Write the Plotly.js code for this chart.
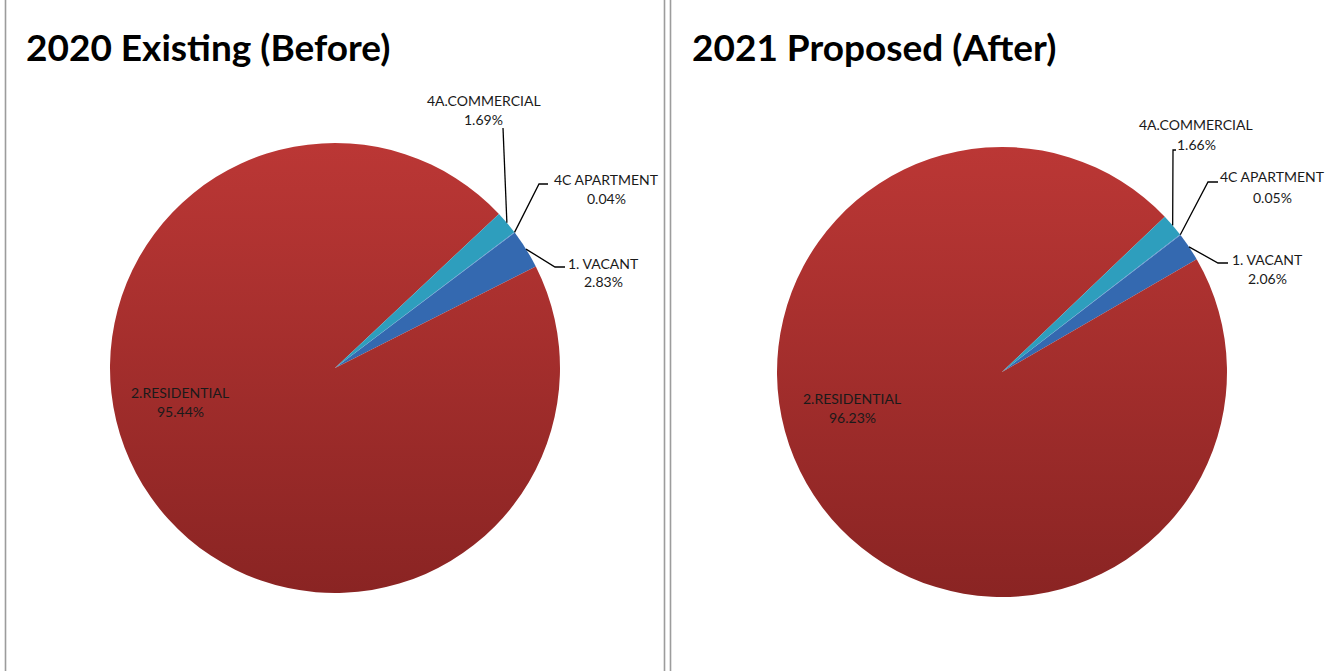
<!DOCTYPE html>
<html>
<head>
<meta charset="utf-8">
<script src="https://cdn.plot.ly/plotly-3.0.1.min.js"></script>
<style>html,body{margin:0;padding:0;background:#fff;}#chart{width:1331px;height:671px;}</style>
</head>
<body>
<div id="chart"></div>
<script>
// ---- data ----
const categories = ["1. VACANT", "2.RESIDENTIAL", "4A.COMMERCIAL", "4C APARTMENT"];
const values2020 = [2.83, 95.44, 1.69, 0.04];
const values2021 = [2.06, 96.23, 1.66, 0.05];
const titles = ["2020 Existing (Before)", "2021 Proposed (After)"];
const colors = ["#3469b0", "#a52d2c", "#2e9ebd", "#4a86c8"];

// ---- layout geometry (pixels) ----
const W = 1331, H = 671;
const pies = [
  {values: values2020, cx: 335, cy: 368, r: 225, rot: 53,
   title: {x: 24, y: 46},
   res: {x: 180, y1: 392, y2: 411},
   small: {
     2: {path: [[503,128]], name: [484,100], pct: [483,119]},
     3: {path: [[539,184],[548,184]], name: [606,179], pct: [606,198]},
     0: {path: [[555,267],[565,267]], name: [603,263], pct: [603,282]}
   }},
  {values: values2021, cx: 1002, cy: 372, r: 225, rot: 52.5,
   title: {x: 690, y: 46},
   res: {x: 852, y1: 398, y2: 417},
   small: {
     2: {path: [[1173,150],[1176,150]], name: [1196,125], pct: [1196,145]},
     3: {path: [[1208,182],[1218,182]], name: [1272,177], pct: [1272,197]},
     0: {path: [[1218,263],[1228,263]], name: [1267,259], pct: [1267,278]}
   }}
];
const px = x => x / W;
const py = y => 1 - y / H;

const FONT = "Lato, 'Open Sans', sans-serif";
const LBL = {family: FONT, size: 14, color: "#1a1a1a"};
const data = [];
const annotations = [];
const shapes = [];

function label(x, y, text) {
  annotations.push({xref: "paper", yref: "paper", x: px(x), y: py(y), xanchor: "center", yanchor: "middle",
    showarrow: false, text: text, font: LBL});
}

pies.forEach((p, k) => {
  data.push({
    type: "pie", labels: categories, values: p.values,
    sort: false, direction: "clockwise", rotation: p.rot,
    textinfo: "none", hoverinfo: "label+percent", showlegend: false,
    marker: {colors: colors, line: {width: 0}},
    domain: {x: [px(p.cx - p.r), px(p.cx + p.r)], y: [py(p.cy + p.r), py(p.cy - p.r)]}
  });
  // title
  annotations.push({xref: "paper", yref: "paper", x: px(p.title.x), y: py(p.title.y),
    xanchor: "left", yanchor: "middle", showarrow: false, text: "<b>" + titles[k] + "</b>",
    font: {family: FONT, size: 37, color: "#000"}});
  const total = p.values.reduce((a, b) => a + b, 0);
  const pctTxt = i => (p.values[i] / total * 100).toFixed(2) + "%";
  // residential label (inside)
  label(p.res.x, p.res.y1, categories[1]);
  label(p.res.x, p.res.y2, pctTxt(1));
  // slice mid angles from data
  let start = p.rot;
  const mids = p.values.map(v => { const a = v / total * 360; const m = start + a / 2; start += a; return m; });
  Object.keys(p.small).forEach(key => {
    const i = +key, s = p.small[key];
    const ang = mids[i] * Math.PI / 180;
    const ex = p.cx + p.r * Math.sin(ang), ey = p.cy - p.r * Math.cos(ang);
    let d = "M" + px(ex) + "," + py(ey);
    s.path.forEach(pt => { d += " L" + px(pt[0]) + "," + py(pt[1]); });
    shapes.push({type: "path", xref: "paper", yref: "paper", path: d, line: {color: "#000", width: 1.3}});
    label(s.name[0], s.name[1], categories[i]);
    label(s.pct[0], s.pct[1], pctTxt(i));
  });
});

// panel borders
[5.5, 664.5, 670.5].forEach(x => shapes.push({type: "line", xref: "paper", yref: "paper",
  x0: px(x), x1: px(x), y0: 0, y1: 1, line: {color: "#9c9c9c", width: 1.6}}));

const layout = {width: W, height: H, margin: {l: 0, r: 0, t: 0, b: 0},
  paper_bgcolor: "#fff", plot_bgcolor: "#fff", annotations: annotations, shapes: shapes};

Plotly.newPlot("chart", data, layout, {displayModeBar: false, staticPlot: true}).then(gd => {
  // vertical gradient on the residential slices
  const svg = gd.querySelector("svg.main-svg");
  const ns = "http://www.w3.org/2000/svg";
  let defs = svg.querySelector("defs");
  if (!defs) { defs = document.createElementNS(ns, "defs"); svg.insertBefore(defs, svg.firstChild); }
  const g = document.createElementNS(ns, "linearGradient");
  g.setAttribute("id", "resGrad"); g.setAttribute("x1", "0"); g.setAttribute("y1", "0");
  g.setAttribute("x2", "0"); g.setAttribute("y2", "1");
  [["0", "#bb3735"], ["1", "#8a2423"]].forEach(([o, c]) => {
    const st = document.createElementNS(ns, "stop"); st.setAttribute("offset", o); st.setAttribute("stop-color", c); g.appendChild(st);
  });
  defs.appendChild(g);
  gd.querySelectorAll(".pielayer .trace").forEach(tr => {
    const slices = tr.querySelectorAll(".slice path.surface");
    if (slices[1]) slices[1].style.fill = "url(#resGrad)";
  });
});
</script>
</body>
</html>
